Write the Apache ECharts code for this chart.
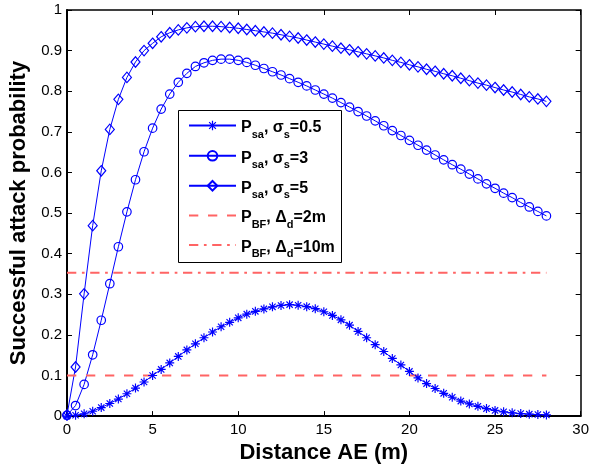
<!DOCTYPE html>
<html><head><meta charset="utf-8">
<script src="https://cdn.jsdelivr.net/npm/echarts@6/dist/echarts.min.js"></script>
<style>html,body{margin:0;padding:0;background:#fff}#c{width:592px;height:469px}</style>
</head><body><div id="c"></div>
<script>
// Distance AE (m)
const distance = [0,0.5,1,1.5,2,2.5,3,3.5,4,4.5,5,5.5,6,6.5,7,7.5,8,8.5,9,9.5,10,10.5,11,11.5,12,12.5,13,13.5,14,14.5,15,15.5,16,16.5,17,17.5,18,18.5,19,19.5,20,20.5,21,21.5,22,22.5,23,23.5,24,24.5,25,25.5,26,26.5,27,27.5,28];
// P_sa, sigma_s = 0.5
const psaSigma05 = [0,0.002,0.0056,0.012,0.021,0.031,0.042,0.055,0.069,0.084,0.100,0.115,0.131,0.147,0.163,0.178,0.193,0.207,0.220,0.231,0.242,0.251,0.258,0.264,0.269,0.2725,0.2745,0.273,0.2695,0.2645,0.257,0.248,0.237,0.224,0.2085,0.193,0.176,0.159,0.142,0.126,0.110,0.094,0.080,0.068,0.056,0.0465,0.037,0.030,0.024,0.0185,0.014,0.0105,0.008,0.0063,0.0048,0.0038,0.003];
// P_sa, sigma_s = 3
const psaSigma3 = [0.002,0.026,0.078,0.151,0.236,0.326,0.417,0.503,0.582,0.651,0.709,0.756,0.793,0.822,0.844,0.861,0.870,0.876,0.879,0.879,0.876,0.871,0.864,0.856,0.848,0.840,0.831,0.822,0.813,0.803,0.793,0.783,0.772,0.761,0.750,0.739,0.727,0.715,0.703,0.691,0.679,0.667,0.655,0.643,0.631,0.619,0.608,0.596,0.584,0.572,0.561,0.549,0.538,0.526,0.515,0.504,0.493];
// P_sa, sigma_s = 5
const psaSigma5 = [0.003,0.121,0.301,0.469,0.604,0.706,0.780,0.834,0.872,0.900,0.918,0.934,0.944,0.951,0.956,0.959,0.960,0.960,0.959,0.957,0.955,0.952,0.949,0.946,0.943,0.939,0.935,0.931,0.926,0.921,0.916,0.911,0.906,0.902,0.897,0.892,0.887,0.882,0.876,0.871,0.865,0.860,0.854,0.849,0.843,0.838,0.832,0.826,0.820,0.815,0.809,0.803,0.798,0.792,0.786,0.781,0.775];
// P_BF reference lines
const bfDistance = [0, 28];
const pbf2m = [0.1, 0.1];
const pbf10m = [0.353, 0.353];

const xTicks = {min: 0, max: 30, interval: 5};
const yTicks = {min: 0, max: 1, interval: 0.1};

const seriesNames = ['Psa, σs=0.5', 'Psa, σs=3', 'Psa, σs=5', 'PBF, Δd=2m', 'PBF, Δd=10m'];
const legendRich = {
  'Psa, σs=0.5': '{p|P}{s|sa}{p|, σ}{s|s}{p|=0.5}',
  'Psa, σs=3': '{p|P}{s|sa}{p|, σ}{s|s}{p|=3}',
  'Psa, σs=5': '{p|P}{s|sa}{p|, σ}{s|s}{p|=5}',
  'PBF, Δd=2m': '{p|P}{s|BF}{p|, Δ}{s|d}{p|=2m}',
  'PBF, Δd=10m': '{p|P}{s|BF}{p|, Δ}{s|d}{p|=10m}'
};

const FONT = '"Liberation Sans", Arial, sans-serif';
const BLUE = '#0000ff';
const RED = '#ff6464';
const CLEAR = 'rgba(0,0,0,0)';
const starPath = 'path://M0,8.7L20,8.7L20,11.3L0,11.3Z M8.7,0L11.3,0L11.3,20L8.7,20Z M3.9,2.1L17.9,16.1L16.1,17.9L2.1,3.9Z M16.1,2.1L17.9,3.9L3.9,17.9L2.1,16.1Z';
function pairs(xs, ys) { return xs.map((x, i) => [x, ys[i]]); }

const rowCenters = [126, 156, 186, 216, 245.5];
const richStyles = {
  p: {fontFamily: FONT, fontSize: 16, fontWeight: 'bold', color: '#000', lineHeight: 24},
  s: {fontFamily: FONT, fontSize: 11, fontWeight: 'bold', color: '#000', verticalAlign: 'bottom'}
};
const legends = seriesNames.map((n, i) => ({
  orient: 'vertical', left: 188, top: rowCenters[i] - 6, padding: 0,
  itemWidth: 47, itemHeight: 12, itemGap: 0,
  data: [n], selectedMode: false,
  formatter: name => legendRich[name],
  textStyle: {rich: richStyles, padding: [5, 0, 0, 0]}
}));

const chart = echarts.init(document.getElementById('c'), null, {renderer: 'canvas'});
const hollow = {color: CLEAR, borderColor: BLUE, borderWidth: 1.2};

chart.setOption({
  animation: false,
  backgroundColor: '#fff',
  grid: {left: 67, right: 10, top: 10, bottom: 52},
  graphic: [{
    type: 'rect', z: 3, silent: true,
    shape: {x: 178.5, y: 110.5, width: 163, height: 152},
    style: {fill: '#fff', stroke: '#000', lineWidth: 1}
  }],
  legend: legends,
  xAxis: [
    {type: 'value', min: xTicks.min, max: xTicks.max, interval: xTicks.interval, position: 'bottom',
     axisLine: {onZero: false, lineStyle: {color: '#000', width: 2}},
     axisTick: {inside: true, length: 5, lineStyle: {color: '#000', width: 1}},
     axisLabel: {color: '#000', fontSize: 15, fontFamily: FONT, margin: 6},
     splitLine: {show: false},
     name: 'Distance AE (m)', nameLocation: 'middle', nameGap: 22,
     nameTextStyle: {fontSize: 22, fontWeight: 'bold', color: '#000', fontFamily: FONT}},
    {type: 'value', min: xTicks.min, max: xTicks.max, interval: xTicks.interval, position: 'top',
     axisLine: {onZero: false, lineStyle: {color: '#000', width: 1.5}},
     axisTick: {inside: true, length: 5, lineStyle: {color: '#000', width: 1}},
     axisLabel: {show: false}, splitLine: {show: false}}
  ],
  yAxis: [
    {type: 'value', min: yTicks.min, max: yTicks.max, interval: yTicks.interval, position: 'left',
     axisLine: {onZero: false, lineStyle: {color: '#000', width: 2}},
     axisTick: {inside: true, length: 5, lineStyle: {color: '#000', width: 1}},
     axisLabel: {color: '#000', fontSize: 15, fontFamily: FONT, margin: 5},
     splitLine: {show: false},
     name: 'Successful attack probability', nameLocation: 'middle', nameGap: 30,
     nameTextStyle: {fontSize: 22, fontWeight: 'bold', color: '#000', fontFamily: FONT}},
    {type: 'value', min: yTicks.min, max: yTicks.max, interval: yTicks.interval, position: 'right',
     axisLine: {onZero: false, lineStyle: {color: '#000', width: 1.5}},
     axisTick: {inside: true, length: 5, lineStyle: {color: '#000', width: 1}},
     axisLabel: {show: false}, splitLine: {show: false}}
  ],
  series: [
    {name: seriesNames[0], type: 'line', data: pairs(distance, psaSigma05),
     symbol: starPath, symbolSize: 9, lineStyle: {color: BLUE, width: 1},
     itemStyle: {color: BLUE}, emphasis: {disabled: true}},
    {name: seriesNames[1], type: 'line', data: pairs(distance, psaSigma3),
     symbol: 'circle', symbolSize: 8.5, lineStyle: {color: BLUE, width: 1},
     itemStyle: hollow, emphasis: {disabled: true}},
    {name: seriesNames[2], type: 'line', data: pairs(distance, psaSigma5),
     symbol: 'diamond', symbolSize: [9, 10.5], lineStyle: {color: BLUE, width: 1},
     itemStyle: hollow, emphasis: {disabled: true}},
    {name: seriesNames[3], type: 'line', data: pairs(bfDistance, pbf2m),
     symbol: 'none', lineStyle: {color: RED, width: 2, type: [9.3, 9.7]},
     itemStyle: {color: CLEAR}, emphasis: {disabled: true}},
    {name: seriesNames[4], type: 'line', data: pairs(bfDistance, pbf10m),
     symbol: 'none', lineStyle: {color: RED, width: 2, type: [9.3, 5.6, 2.7, 5.6]},
     itemStyle: {color: CLEAR}, emphasis: {disabled: true}}
  ]
});
</script></body></html>
